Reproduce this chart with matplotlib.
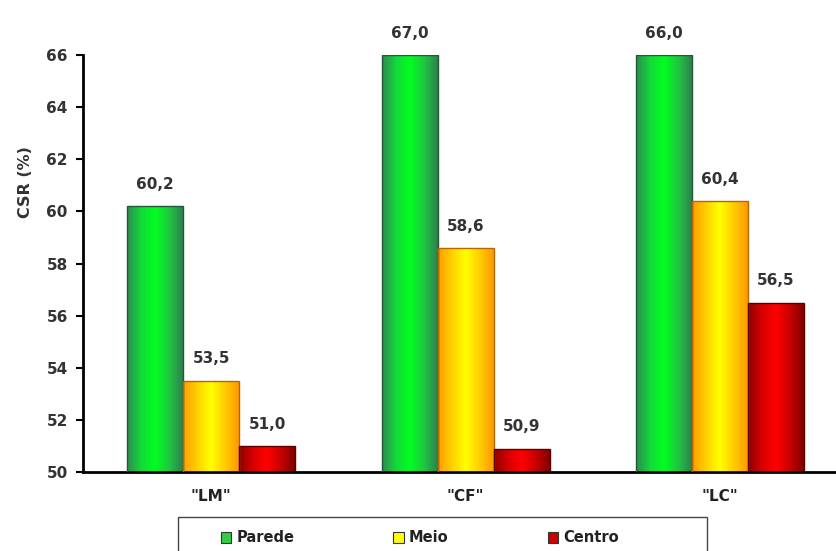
import matplotlib
matplotlib.use("Agg")
import matplotlib.pyplot as plt
import numpy as np
from matplotlib.colors import LinearSegmentedColormap
from matplotlib.patches import Patch, Rectangle

plt.rcParams['font.family'] = ['DejaVu Sans']

# data
grupos = ['"LM"', '"CF"', '"LC"']
series = ['Parede', 'Meio', 'Centro']
parede = [60.2, 67.0, 66.0]
meio = [53.5, 58.6, 60.4]
centro = [51.0, 50.9, 56.5]
valores = [parede, meio, centro]

# colour ramps (edge, centre, edge) for the cylinder look
rampas = [
    ['#2e8b50', '#14d83c', '#00ff1e', '#1fc840', '#2e8050'],
    ['#ff9c00', '#ffd000', '#ffff00', '#ffcc00', '#ff9800'],
    ['#8c0000', '#d80000', '#ff0000', '#c80000', '#800000'],
]
bordas = ['#1f5a33', '#b06a00', '#5a0000']
cores_leg = ['#33cc44', '#ffff00', '#cc0000']

fig = plt.figure(figsize=(8.37, 5.51), dpi=100)
ax = fig.add_axes([83 / 837, 1 - 472 / 551, 1 - 83 / 837, (472 - 55) / 551])

ymin, ymax = 50, 66
x = np.arange(len(grupos))
largura = 0.22
grad = np.linspace(0, 1, 256).reshape(1, -1)

for i, vals in enumerate(valores):
    cmap = LinearSegmentedColormap.from_list('c%d' % i, rampas[i])
    pos = x + (i - 1) * largura
    topos = np.minimum(vals, ymax)
    barras = ax.bar(pos, topos - ymin, largura, bottom=ymin,
                    facecolor='none', edgecolor=bordas[i], linewidth=1.0, zorder=3)
    for b, v, t in zip(barras, vals, topos):
        x0 = b.get_x()
        im = ax.imshow(grad, cmap=cmap, aspect='auto', zorder=2,
                       extent=(x0, x0 + largura, ymin, t), origin='lower')
        im.set_clip_path(b)
        ax.text(x0 + largura / 2, t + 0.55, ('%.1f' % v).replace('.', ','),
                ha='center', va='bottom', fontsize=11, fontweight='bold',
                color='#333333', clip_on=False)

ax.set_xlim(-0.504, 2.46)
ax.set_ylim(ymin, ymax)
ax.set_yticks(np.arange(50, 67, 2))
ax.set_xticks(x)
ax.set_xticklabels(grupos)
ax.tick_params(axis='y', length=5, width=1.5, direction='out', pad=6,
               labelsize=11, labelcolor='#333333')
ax.tick_params(axis='x', length=0, pad=12, labelsize=11, labelcolor='#222222')
for lab in ax.get_xticklabels() + ax.get_yticklabels():
    lab.set_fontweight('bold')
ax.spines['top'].set_visible(False)
ax.spines['right'].set_visible(False)
ax.spines['left'].set_linewidth(2)
ax.spines['bottom'].set_linewidth(2)
ax.set_ylabel('CSR (%)', fontsize=11.5, fontweight='bold', color='#333333')
ax.yaxis.set_label_coords(-0.066, 0.695)

# legend box (cut off by the bottom edge, as in the original)
fig.patches.append(Rectangle((178 / 837, -0.05), 529 / 837, 0.05 + 34 / 551,
                             transform=fig.transFigure, facecolor='white',
                             edgecolor='#444444', linewidth=1.0))
handles = [Patch(facecolor=c, edgecolor='#333333', linewidth=0.8) for c in cores_leg]
leg = fig.legend(handles, series, loc='center left', ncol=3, frameon=False,
                 bbox_to_anchor=(221 / 837, 1 - 538 / 551),
                 handlelength=0.7, handleheight=0.7, handletextpad=0.35,
                 columnspacing=6.8, borderpad=0, borderaxespad=0,
                 prop={'size': 10.5, 'weight': 'bold'})
for t in leg.get_texts():
    t.set_color('#222222')

fig.savefig('out.png', dpi=100)
